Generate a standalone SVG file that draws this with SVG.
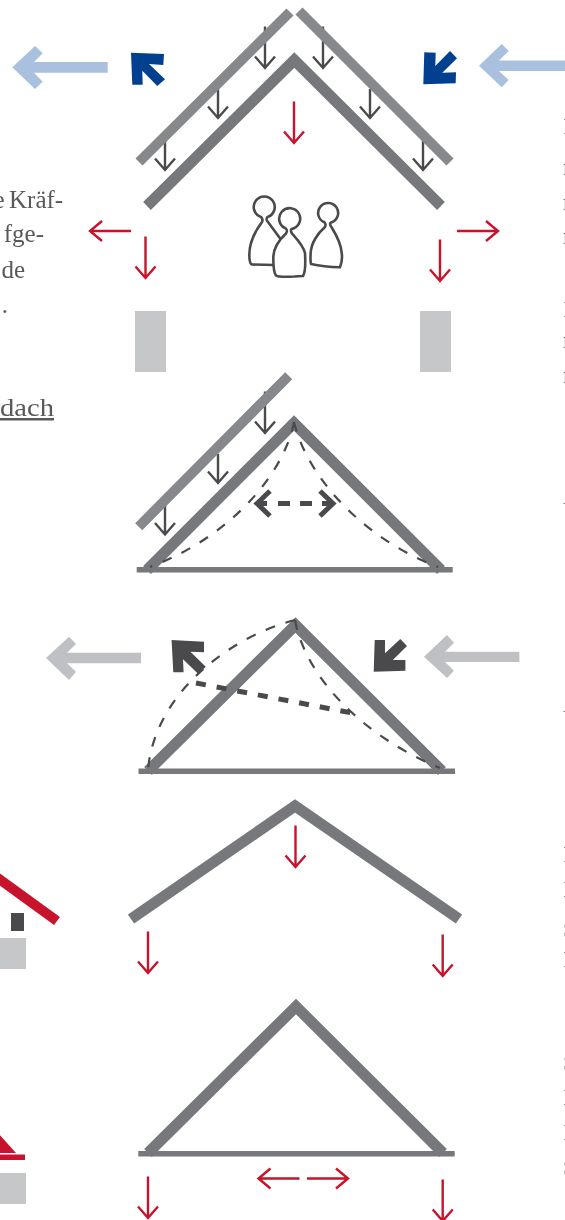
<svg xmlns="http://www.w3.org/2000/svg" width="565" height="1220" viewBox="0 0 565 1220">
<defs>
<style>
.panel{fill:none;stroke:#87888c;stroke-width:10}
.roof{fill:none;stroke:#77787c;stroke-width:11;stroke-miterlimit:10}
.bar{fill:#77787c}
.red{fill:none;stroke:#c8132d;stroke-width:2.4}
.load{fill:none;stroke:#4a4a4c;stroke-width:2.4}
.dash{fill:none;stroke:#4a4a4c;stroke-width:2.2;stroke-dasharray:10 11}
.thick{fill:none;stroke:#4a4a4c;stroke-width:5}
.post{fill:#c6c7c9}
.lb{fill:#a9c1de}
.db{fill:#00408f}
.lg{fill:#bfc0c4}
.dg{fill:#4a4a4c}
.pawn{fill:#fff;stroke:#4a4a4c;stroke-width:2.6;stroke-linejoin:round;stroke-linecap:round}
.t{font-family:"Liberation Serif",serif;font-size:25px;fill:#58595b}
.r{font-family:"Liberation Serif",serif;font-size:24px;fill:#58595b}
</style>
<filter id="gray" filterUnits="userSpaceOnUse" x="-10" y="0" width="585" height="1220"><feOffset dx="0" dy="0"/></filter>
<path id="dn" d="M0,-41.500V0M-10,-11.500L0,0L10,-11.500"/>
<path id="dns" d="M0,-29V0M-10,-11.500L0,0L10,-11.500"/>
<path id="lf" d="M41,0H0M12,-10L0,0L12,10"/>
</defs>

<g id="text-left" filter="url(#gray)">
<text class="t" y="208"><tspan x="-6.500">e</tspan><tspan x="9">Kräf-</tspan></text>
<text class="t" x="44" y="242" text-anchor="end">fge-</text>
<text class="t" x="25" y="278" text-anchor="end">de</text>
<text class="t" x="8" y="313" text-anchor="end">.</text>
<text class="t" x="0" y="416" textLength="54" lengthAdjust="spacingAndGlyphs" text-decoration="underline">dach</text>
</g>
<g id="text-right" filter="url(#gray)">
<text class="r" x="563" y="134">I</text>
<text class="r" x="563" y="175">r</text>
<text class="r" x="563" y="210">r</text>
<text class="r" x="563" y="244">r</text>
<text class="r" x="563" y="317">I</text>
<text class="r" x="563" y="348">r</text>
<text class="r" x="563" y="383">r</text>
<text class="r" x="563" y="518">V</text>
<text class="r" x="563" y="726">V</text>
<text class="r" x="563" y="862">I</text>
<text class="r" x="563" y="897">I</text>
<text class="r" x="563" y="937">S</text>
<text class="r" x="563" y="967">I</text>
<text class="r" x="563" y="1070">S</text>
<text class="r" x="563" y="1105">I</text>
<text class="r" x="563" y="1140">I</text>
<text class="r" x="563" y="1175">S</text>
</g>

<g id="house-fragments">
<path d="M-5,876L57,921" fill="none" stroke="#c8132d" stroke-width="10"/>
<rect class="dg" x="11" y="913" width="13" height="18"/>
<rect class="post" x="0" y="938" width="26" height="31"/>
<path d="M-2,1133L16,1153H0V1133Z" fill="#c8132d"/>
<rect x="0" y="1154.500" width="25" height="5.500" fill="#c8132d"/>
<rect class="post" x="0" y="1173" width="26" height="31"/>
</g>

<g id="diagram-1">
<g id="connectors-1">
<g class="load">
<use href="#dn" x="265" y="68"/><use href="#dns" x="218" y="118"/><use href="#dns" x="165" y="170"/>
<use href="#dn" x="323" y="68"/><use href="#dns" x="370" y="118"/><use href="#dns" x="423" y="170"/>
</g>
<g class="red">
<use href="#dn" x="294" y="143"/><use href="#dn" x="145.500" y="278"/><use href="#dn" x="440" y="281"/>
<use href="#lf" x="90" y="231"/>
<use href="#lf" transform="translate(498,231) scale(-1,1)"/>
</g>
</g>
<g id="roof-1">
<path class="panel" d="M139,162L290,12"/>
<path class="panel" d="M299,11L450,162"/>
<path class="roof" d="M147,206L294.300,60L441,206"/>
</g>
<g id="people">
<path class="pawn" d="M282,241L268,222C266,220 266,219 267.500,217A10.500,10.500 0 1 0 261,217C263,219 263,220 262,222C256,230 249.300,242 249.300,255C249.300,260 250,264 252,264.500L274,265"/>
<path class="pawn" d="M291.500,229A10.500,10.500 0 1 0 285.500,228.300C287.500,230 287.500,231 286,233.500C279,240 273.300,248 273.300,258C273.300,266 274,273 276,275.500C278,277 290,277 303,276C305,273 305.500,262 305,253C303,245 296,238 292,233.500C290.500,231 290.500,230 291.500,229Z"/>
<path class="pawn" d="M330.500,222.700A10,10 0 1 0 324.500,222.300C326,224 326,225 325,227C318,233 311,243 310.700,253C310.300,258 310.500,262 311,264C320,266 330,267 340,267.300C342,262 342.500,258 341.700,253C341,244 337,236 332,228C330,225.500 329.500,224 330.500,222.700Z"/>
</g>
<rect id="post-left" class="post" x="135" y="311" width="31" height="61"/>
<rect id="post-right" class="post" x="420" y="311" width="31" height="61"/>
<g id="wind-1">
<polygon class="lb" points="12.300,67.300 35,46 42.700,53.300 34,62 107.700,62 107.700,72.700 34,72.700 42.700,81.700 35,89"/>
<polygon class="lb" points="479,65.700 501.700,44 508.700,51 499,60.500 565,60.500 565,71 499,71 508.700,80 501.700,87.300"/>
<polygon class="db" points="131,52.700 164,54 163.300,65 149,64 165,79.300 157.300,86 142.300,70.700 142.700,84.700 132.300,84.700"/>
<polygon class="db" points="424.300,52.300 435.700,52.700 435.300,66 450,51 457,58.300 442.300,72.700 456,72.300 455.700,83.300 423.300,84.300"/>
</g>
</g>

<g id="diagram-2">
<g id="connectors-2" class="load">
<use href="#dn" x="265" y="433"/><use href="#dns" x="218" y="483"/><use href="#dns" x="165" y="534.500"/>
</g>
<path class="panel" d="M138.700,526.700L288.700,375.700"/>
<path class="roof" d="M147,570L294,423L441,570"/>
<rect class="bar" x="136.700" y="567" width="316" height="5.500"/>
<path class="dash" d="M294,422C285,470 235,535 150,567"/>
<path class="dash" d="M294,422C305,470 355,535 438,567"/>
<path class="thick" d="M270,491L257,503.500L270,516M257,503.500H267M278,503.500H290M300,503.500H312M322,503.500H333M320,491L333,503.500L320,516"/>
</g>

<g id="diagram-3">
<path class="roof" d="M148,771L295.500,625L442,771"/>
<rect class="bar" x="138.500" y="768.500" width="316.500" height="5.500"/>
<path class="dash" d="M295,620C235,635 155,690 148,770"/>
<path class="dash" d="M295,620C305,675 360,735 440,768"/>
<path class="thick" stroke-dasharray="10 11" d="M196,683L352,713"/>
<polygon class="lg" points="46,658 69,636.700 76,644 67,652.700 141,652.700 141,663.300 67,663.300 76,671.700 69,680"/>
<polygon class="lg" points="424,656.700 447,635 454,642.700 445,651.700 519.400,651.700 519.400,662 445,662 454,670.700 447,678"/>
<polygon class="dg" points="171.600,640 204,641.700 204,652.300 190.400,651.700 205.800,666.700 198.300,674 183,659.300 183.600,672.300 173.300,672.300"/>
<polygon class="dg" points="374.700,640 385,640 385,653.300 400.300,639 407,646 392.800,660 405.400,660 405.400,670.700 373.700,671.700"/>
</g>

<g id="diagram-4">
<path class="roof" d="M131,919L295,806L459,919"/>
<g id="connectors-4" class="red">
<use href="#dn" x="295.500" y="867"/><use href="#dn" x="148" y="973"/><use href="#dn" x="442.700" y="976"/>
</g>
</g>

<g id="diagram-5">
<path class="roof" d="M148,1153L296,1006.500L443,1153"/>
<rect class="bar" x="138.300" y="1151" width="316.400" height="5.500"/>
<g id="connectors-5" class="red">
<use href="#dn" x="148" y="1218"/><use href="#dn" x="442.700" y="1221"/>
<use href="#lf" x="258.500" y="1178.500"/>
<use href="#lf" transform="translate(348,1178.500) scale(-1,1)"/>
</g>
</g>
</svg>
